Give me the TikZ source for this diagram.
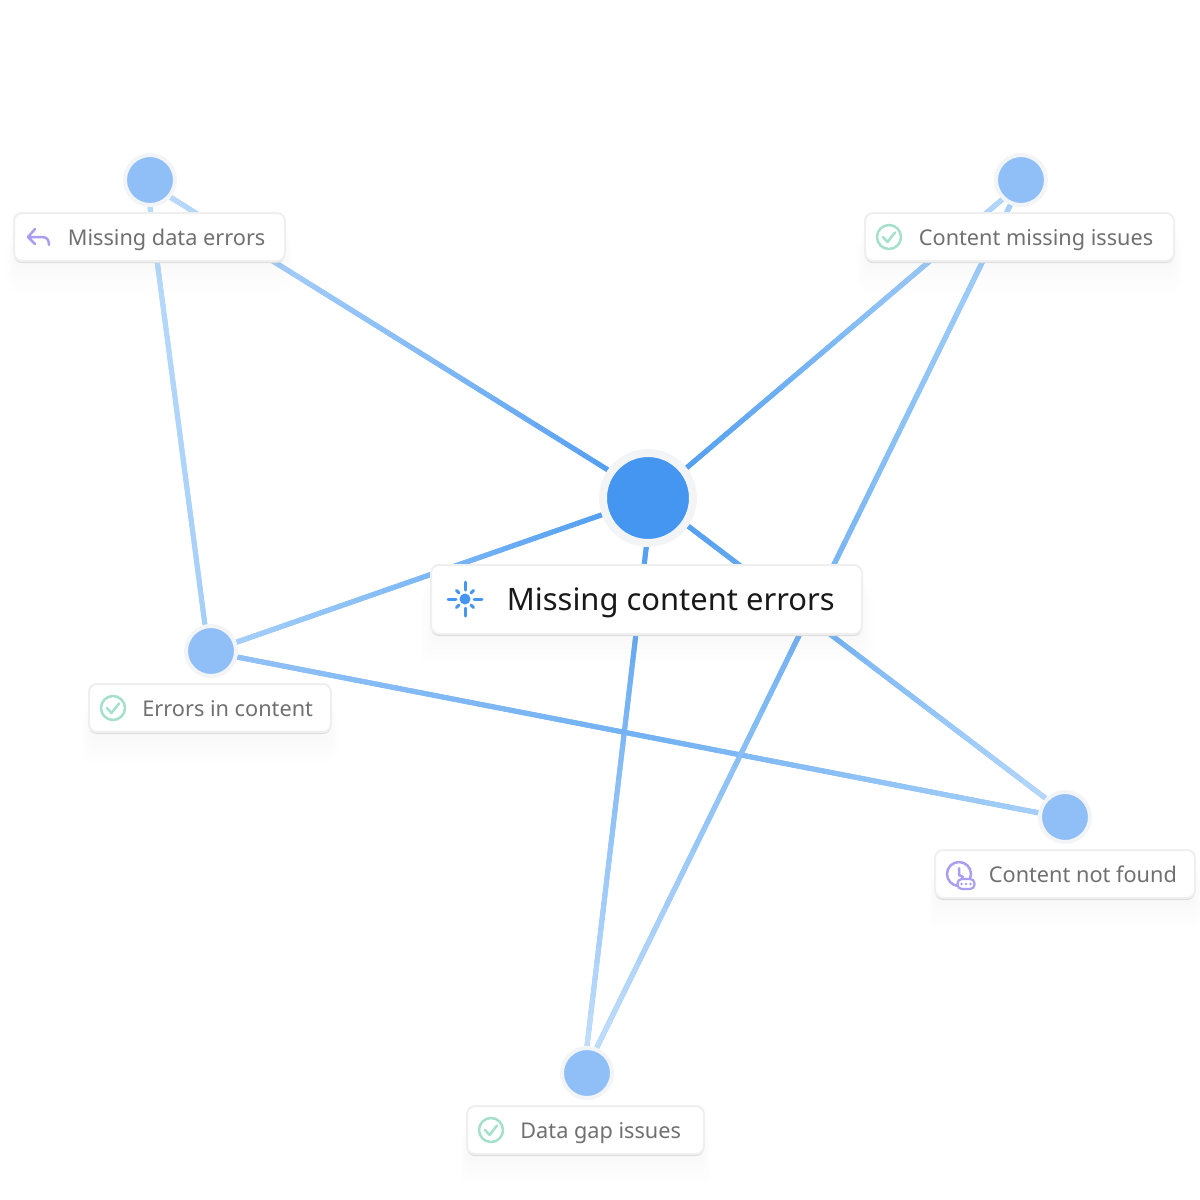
\documentclass[tikz,border=0pt]{standalone}
\usepackage{fontspec}
\setmainfont{Noto Sans}
\usetikzlibrary{backgrounds,calc,shadows}

\definecolor{hubblue}{HTML}{4596F0}
\definecolor{leafblue}{HTML}{8FBFF6}
\definecolor{ringgrey}{HTML}{F3F4F6}
\definecolor{cardedge}{HTML}{EFEFEF}
\definecolor{cardfoot}{HTML}{DCDCDC}
\definecolor{labelgrey}{HTML}{707070}
\definecolor{checkgreen}{HTML}{A5E0CC}
\definecolor{iconviolet}{HTML}{A99FF2}

\tikzset{
    hub/.style={circle, fill=hubblue, draw=ringgrey, line width=4pt, minimum size=45pt, inner sep=0pt},
    leaf/.style={circle, fill=leafblue, draw=ringgrey, line width=2pt, minimum size=25pt, inner sep=0pt},
    softlayer/.style 2 args={general shadow={shadow xshift=0pt, shadow yshift=#1, shadow scale=#2, fill=black, opacity=.005}},
    card/.style={rectangle, rounded corners=4pt, fill=white, draw=cardedge, line width=1pt,
        minimum height=24pt, inner sep=0pt,
        softlayer={-14pt}{1.05}, softlayer={-12pt}{1.04}, softlayer={-9pt}{1.03},
        softlayer={-7pt}{1.02}, softlayer={-5pt}{1.01}, softlayer={-3pt}{1},
        general shadow={shadow xshift=0pt, shadow yshift=-1pt, fill=cardfoot}},
    smalltext/.style={text=labelgrey, anchor=base west, inner sep=0pt, font=\fontsize{10.85}{14}\selectfont},
    bigtext/.style={text=black!90, anchor=base west, inner sep=0pt, font=\fontsize{15.45}{20}\selectfont},
    link/.style={line width=2.5pt},
    checkicon/.pic={
        \draw[checkgreen, line width=1.25pt] (0,0) circle[radius=12];
        \draw[checkgreen, line width=1.25pt, line cap=round, line join=round] (-6,0) -- (-1.5,5) -- (6,-4.5);
    },
    replyicon/.pic={
        \draw[iconviolet, line width=1.25pt, line cap=round, line join=round]
            (-3,-8) -- (-10,0) -- (-3,7) (-10,0) -- (4,0) .. controls (9,0) and (11,3) .. (11,8);
    },
    clockicon/.pic={
        \draw[iconviolet, line width=1.25pt] (0,0) circle[radius=12];
        \draw[iconviolet, line width=1.25pt, line cap=round, line join=round] (0,-6) -- (0,1) -- (4,3);
        \node[rectangle, rounded corners=2.2pt, fill=white, draw=iconviolet, line width=1.1pt,
            minimum width=8.5pt, minimum height=5pt, inner sep=0pt] (pilldots) at (7,10) {};
        \foreach \dotx in {2.5,7,11.5}
            \fill[iconviolet] (\dotx,10) circle[radius=1.4];
    },
    sunicon/.pic={
        \fill[hubblue] (0,0) circle[radius=5.5];
        \foreach \rayangle in {0,90,180,270}
            \draw[hubblue, line width=1.5pt, line cap=round] (\rayangle:9) -- (\rayangle:17);
        \foreach \rayangle in {45,135,225,315}
            \draw[hubblue, line width=1.5pt, line cap=round] (\rayangle:8.5) -- (\rayangle:12);
    }
}

% from-colour, middle colour, end colour
\newcommand{\linkline}[5]{
    \definecolor{cfrom}{HTML}{#3}
    \definecolor{cmid}{HTML}{#4}
    \definecolor{cto}{HTML}{#5}
    \draw[link, color=cmid] (#1) -- (#2);
    \foreach \i in {1,...,30}{
        \pgfmathsetmacro{\ta}{(\i-1)/30}
        \pgfmathsetmacro{\tb}{\i/30}
        \pgfmathsetmacro{\pa}{max(0,100-200*(\i-.5)/30)}
        \pgfmathsetmacro{\pb}{min(100,200-200*(\i-.5)/30)}
        \draw[link, color=cfrom!\pa!cmid!\pb!cto] ($(#1)!\ta!(#2)$) -- ($(#1)!\tb!(#2)$);
    }
}

\begin{document}
\begin{tikzpicture}[x=.5pt, y=-.5pt]
    \useasboundingbox (0,0) rectangle (1200,1200);

    \node[hub] (centre) at (648,498) {};
    \node[leaf] (topleft) at (150,180) {};
    \node[leaf] (topright) at (1021,180) {};
    \node[leaf] (midleft) at (211,651) {};
    \node[leaf] (lowright) at (1065,817) {};
    \node[leaf] (bottom) at (587,1073) {};

    \begin{pgfonlayer}{background}
        \linkline{centre.145}{topleft.-40}{559FF0}{8DC0F6}{BAD9FB}
        \linkline{centre.38}{topright.-134}{559FF0}{82BBF5}{B5D7FB}
        \linkline{centre.200}{midleft.19}{559FF0}{7EB9F5}{A5CFF8}
        \linkline{centre.-35}{lowright.136}{559FF0}{82BBF5}{B5D7FB}
        \linkline{centre.-92}{bottom.90}{559FF0}{8DC0F6}{C0DDFB}
        \linkline{topleft.-90}{midleft.103}{B8DAFB}{B0D5FA}{A5CFF8}
        \linkline{midleft.-13}{lowright.171}{90C1F6}{72B1F3}{A5CFF8}
        \linkline{topright.-113}{bottom.69}{A8D2FA}{72B2F3}{C0DDFB}
    \end{pgfonlayer}

    \node[card, minimum width=135.5pt] (cardtopleft) at (149.5,237) {};
    \node[card, minimum width=154.5pt] (cardtopright) at (1019.5,237) {};
    \node[card, minimum width=121pt] (cardmidleft) at (210,708) {};
    \node[card, minimum width=130pt] (cardlowright) at (1065,874) {};
    \node[card, minimum width=118.5pt] (cardbottom) at (585.5,1130) {};
    \node[card, minimum width=215.5pt, minimum height=34.5pt] (cardcentre) at (646.5,599.5) {};

    \node[smalltext] (texttopleft) at (67.5,245) {Missing data errors};
    \node[smalltext] (texttopright) at (918.5,245) {Content missing issues};
    \node[smalltext] (textmidleft) at (142,716) {Errors in content};
    \node[smalltext] (textlowright) at (988.5,882) {Content not found};
    \node[smalltext] (textbottom) at (520,1138) {Data gap issues};
    \node[bigtext] (textcentre) at (506.5,610) {Missing content errors};

    \pic at (38,237) {replyicon};
    \pic at (889,237) {checkicon};
    \pic at (113,708) {checkicon};
    \pic at (959,874) {clockicon};
    \pic at (491,1130) {checkicon};
    \pic at (465,599) {sunicon};
\end{tikzpicture}
\end{document}
